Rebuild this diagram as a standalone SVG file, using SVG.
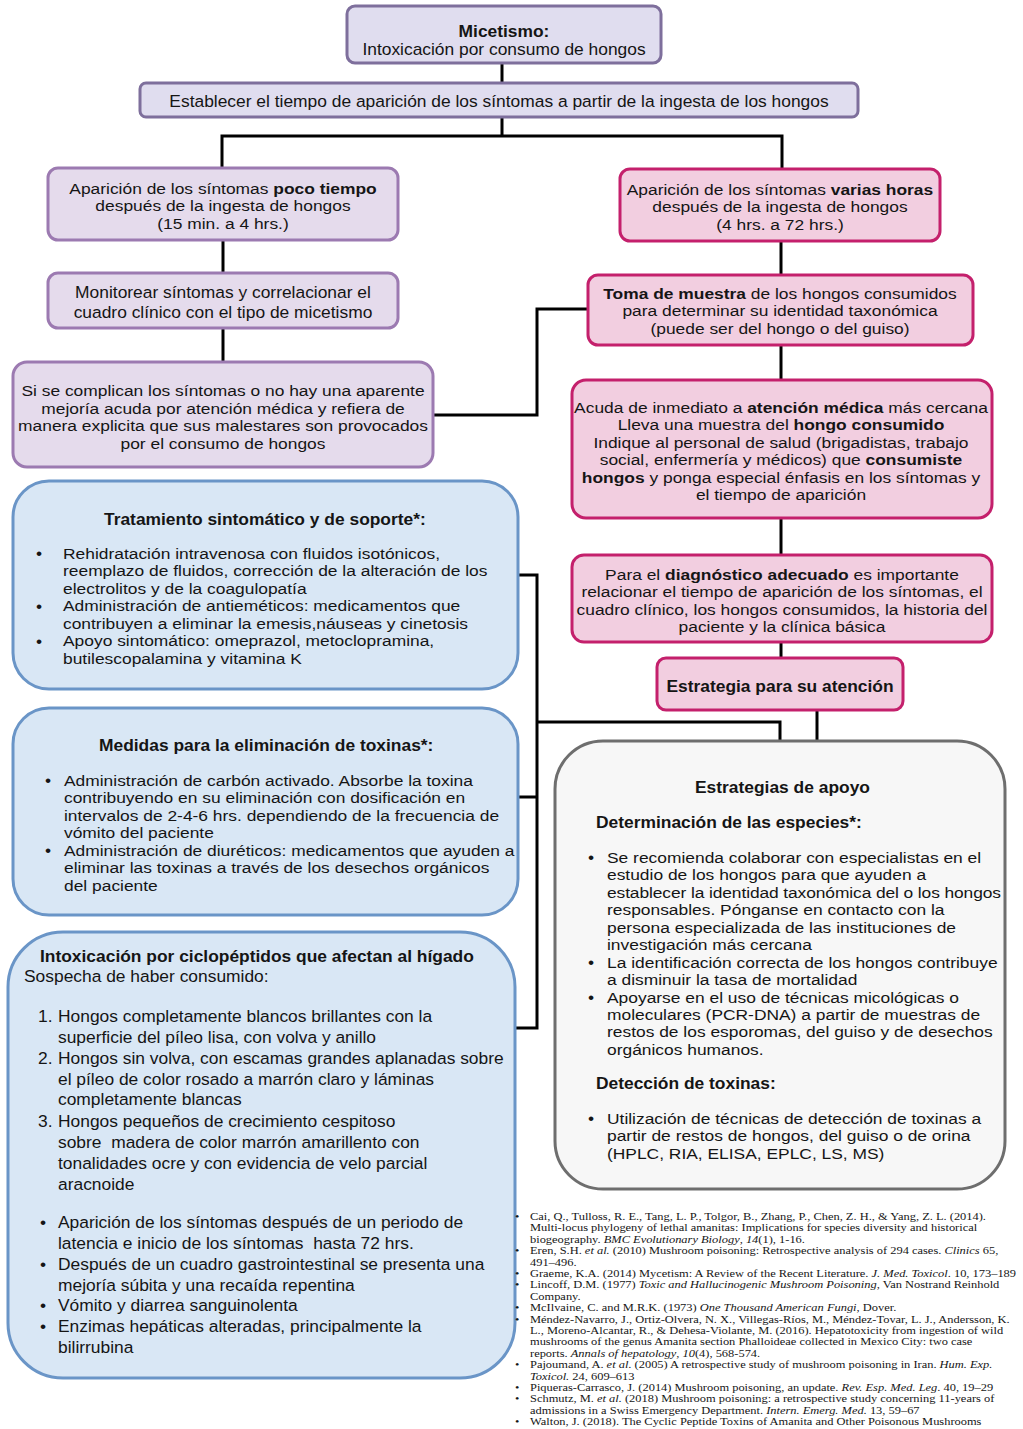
<svg xmlns="http://www.w3.org/2000/svg" width="1023" height="1429" viewBox="0 0 1023 1429">
<style>
.t{font-family:"Liberation Sans",Arial,Helvetica,sans-serif;font-size:17.4px;fill:#151515}
.s{font-size:15.5px}
.c{text-anchor:middle}
.b{font-weight:bold}
.ref{font-family:"Liberation Serif","Times New Roman",serif;font-size:10.2px;fill:#151515}
.i{font-style:italic}
.pt{fill:#e0ddef;stroke:#7e6f9c;stroke-width:3}
.pl{fill:#e5dbec;stroke:#9c7ab1;stroke-width:3}
.pk{fill:#f2cee0;stroke:#c4206c;stroke-width:3}
.bl{fill:#d9e7f5;stroke:#6a95c7;stroke-width:3}
.gr{fill:#f7f7f7;stroke:#6e6e6e;stroke-width:3}
.cn{fill:none;stroke:#000;stroke-width:3}
</style>
<rect width="1023" height="1429" fill="#fff"/>
<g id="connectors">
<path class="cn" d="M502,63 V83"/>
<path class="cn" d="M502,117 V136 M222,168 V136 H782 V169"/>
<path class="cn" d="M223,240 V273"/>
<path class="cn" d="M223,328 V362"/>
<path class="cn" d="M433,415 H537 V309 H588"/>
<path class="cn" d="M781,241 V275"/>
<path class="cn" d="M781,345 V380"/>
<path class="cn" d="M781,518 V555"/>
<path class="cn" d="M781,642 V658"/>
<path class="cn" d="M817,710 V741"/>
<path class="cn" d="M518,575 H537 V1028 H515 M518,797 H537 M537,722 H780 V741"/>
</g>
<g id="n1">
<rect class="pt" x="347" y="6" width="314" height="57" rx="8"/>
<text class="t c" style="font-size:16px" transform="translate(504,0) scale(1.0875,1) translate(-504,0)"><tspan class="b" x="504" y="37">Micetismo:</tspan><tspan x="504" y="55">Intoxicación por consumo de hongos</tspan></text>
</g>
<g id="n2">
<rect class="pt" x="140" y="83" width="718" height="34" rx="6"/>
<text class="t c" x="499" y="107">Establecer el tiempo de aparición de los síntomas a partir de la ingesta de los hongos</text>
</g>
<g id="n3">
<rect class="pl" x="48" y="168" width="350" height="72" rx="10"/>
<text class="t s c" transform="translate(223,0) scale(1.1226,1) translate(-223,0)"><tspan x="223" y="194">Aparición de los síntomas <tspan class="b">poco tiempo</tspan></tspan><tspan x="223" y="211.5">después de la ingesta de hongos</tspan><tspan x="223" y="229">(15 min. a 4 hrs.)</tspan></text>
</g>
<g id="n4">
<rect class="pl" x="48" y="273" width="350" height="55" rx="10"/>
<text class="t c"><tspan x="223" y="298">Monitorear síntomas y correlacionar el</tspan><tspan x="223" y="318">cuadro clínico con el tipo de micetismo</tspan></text>
</g>
<g id="n5">
<rect class="pl" x="13" y="362" width="420" height="105" rx="14"/>
<text class="t s c" transform="translate(223,0) scale(1.1226,1) translate(-223,0)"><tspan x="223" y="396.5">Si se complican los síntomas o no hay una aparente</tspan><tspan x="223" y="414">mejoría acuda por atención médica y refiera de</tspan><tspan x="223" y="431.5">manera explicita que sus malestares son provocados</tspan><tspan x="223" y="449">por el consumo de hongos</tspan></text>
</g>
<g id="n6">
<rect class="pk" x="620" y="169" width="320" height="72" rx="10"/>
<text class="t s c" transform="translate(780,0) scale(1.1226,1) translate(-780,0)"><tspan x="780" y="195">Aparición de los síntomas <tspan class="b">varias horas</tspan></tspan><tspan x="780" y="212.5">después de la ingesta de hongos</tspan><tspan x="780" y="230">(4 hrs. a 72 hrs.)</tspan></text>
</g>
<g id="n7">
<rect class="pk" x="588" y="275" width="385" height="70" rx="10"/>
<text class="t s c" transform="translate(780,0) scale(1.1226,1) translate(-780,0)"><tspan x="780" y="299"><tspan class="b">Toma de muestra</tspan> de los hongos consumidos</tspan><tspan x="780" y="316.5">para determinar su identidad taxonómica</tspan><tspan x="780" y="334">(puede ser del hongo o del guiso)</tspan></text>
</g>
<g id="n8">
<rect class="pk" x="572" y="380" width="420" height="138" rx="14"/>
<text class="t s c" transform="translate(781,0) scale(1.1226,1) translate(-781,0)"><tspan x="781" y="413">Acuda de inmediato a <tspan class="b">atención médica</tspan> más cercana</tspan><tspan x="781" y="430.4">Lleva una muestra del <tspan class="b">hongo consumido</tspan></tspan><tspan x="781" y="447.8">Indique al personal de salud (brigadistas, trabajo</tspan><tspan x="781" y="465.2">social, enfermería y médicos) que <tspan class="b">consumiste</tspan></tspan><tspan x="781" y="482.6"><tspan class="b">hongos</tspan> y ponga especial énfasis en los síntomas y</tspan><tspan x="781" y="500">el tiempo de aparición</tspan></text>
</g>
<g id="n9">
<rect class="pk" x="572" y="555" width="420" height="87" rx="12"/>
<text class="t s c" transform="translate(782,0) scale(1.1226,1) translate(-782,0)"><tspan x="782" y="580">Para el <tspan class="b">diagnóstico adecuado</tspan> es importante</tspan><tspan x="782" y="597.5">relacionar el tiempo de aparición de los síntomas, el</tspan><tspan x="782" y="615">cuadro clínico, los hongos consumidos, la historia del</tspan><tspan x="782" y="632.5">paciente y la clínica básica</tspan></text>
</g>
<g id="n10">
<rect class="pk" x="657" y="658" width="246" height="52" rx="9"/>
<text class="t c b" x="780" y="692">Estrategia para su atención</text>
</g>
<g id="n11">
<rect class="bl" x="13" y="481" width="505" height="208" rx="36"/>
<text class="t b" x="104" y="525">Tratamiento sintomático y de soporte*:</text>
<text class="t"><tspan x="36" y="559">•</tspan><tspan x="36" y="611.5">•</tspan><tspan x="36" y="646.5">•</tspan></text>
<text class="t s" transform="translate(63,0) scale(1.1226,1) translate(-63,0)"><tspan x="63" y="559">Rehidratación intravenosa con fluidos isotónicos,</tspan><tspan x="63" y="576.5">reemplazo de fluidos, corrección de la alteración de los</tspan><tspan x="63" y="594">electrolitos y de la coagulopatía</tspan><tspan x="63" y="611.5">Administración de antieméticos: medicamentos que</tspan><tspan x="63" y="629">contribuyen a eliminar la emesis,náuseas y cinetosis</tspan><tspan x="63" y="646.5">Apoyo sintomático: omeprazol, metoclopramina,</tspan><tspan x="63" y="664">butilescopalamina y vitamina K</tspan></text>
</g>
<g id="n12">
<rect class="bl" x="13" y="708" width="505" height="207" rx="36"/>
<text class="t b" x="99" y="751">Medidas para la eliminación de toxinas*:</text>
<text class="t"><tspan x="45" y="786">•</tspan><tspan x="45" y="856">•</tspan></text>
<text class="t s" transform="translate(64,0) scale(1.1226,1) translate(-64,0)"><tspan x="64" y="786">Administración de carbón activado. Absorbe la toxina</tspan><tspan x="64" y="803.5">contribuyendo en su eliminación con dosificación en</tspan><tspan x="64" y="821">intervalos de 2-4-6 hrs. dependiendo de la frecuencia de</tspan><tspan x="64" y="838.5">vómito del paciente</tspan><tspan x="64" y="856">Administración de diuréticos: medicamentos que ayuden a</tspan><tspan x="64" y="873.5">eliminar las toxinas a través de los desechos orgánicos</tspan><tspan x="64" y="891">del paciente</tspan></text>
</g>
<g id="n13">
<rect class="bl" x="8" y="932" width="507" height="446" rx="55"/>
<text class="t" xml:space="preserve"><tspan class="b" x="40" y="962">Intoxicación por ciclopéptidos que afectan al hígado</tspan><tspan x="24" y="982">Sospecha de haber consumido:</tspan><tspan x="38" y="1022">1.</tspan><tspan x="58" y="1022">Hongos completamente blancos brillantes con la</tspan><tspan x="58" y="1043">superficie del píleo lisa, con volva y anillo</tspan><tspan x="38" y="1064">2.</tspan><tspan x="58" y="1064">Hongos sin volva, con escamas grandes aplanadas sobre</tspan><tspan x="58" y="1085">el píleo de color rosado a marrón claro y láminas</tspan><tspan x="58" y="1105">completamente blancas</tspan><tspan x="38" y="1127">3.</tspan><tspan x="58" y="1127">Hongos pequeños de crecimiento cespitoso</tspan><tspan x="58" y="1148">sobre  madera de color marrón amarillento con</tspan><tspan x="58" y="1169">tonalidades ocre y con evidencia de velo parcial</tspan><tspan x="58" y="1190">aracnoide</tspan><tspan x="40" y="1228">•</tspan><tspan x="58" y="1228">Aparición de los síntomas después de un periodo de</tspan><tspan x="58" y="1249">latencia e inicio de los síntomas  hasta 72 hrs.</tspan><tspan x="40" y="1270">•</tspan><tspan x="58" y="1270">Después de un cuadro gastrointestinal se presenta una</tspan><tspan x="58" y="1291">mejoría súbita y una recaída repentina</tspan><tspan x="40" y="1311">•</tspan><tspan x="58" y="1311">Vómito y diarrea sanguinolenta</tspan><tspan x="40" y="1332">•</tspan><tspan x="58" y="1332">Enzimas hepáticas alteradas, principalmente la</tspan><tspan x="58" y="1353">bilirrubina</tspan></text>
</g>
<g id="n14">
<rect class="gr" x="555" y="741" width="450" height="448" rx="48"/>
<text class="t b"><tspan x="695" y="793">Estrategias de apoyo</tspan><tspan x="596" y="828">Determinación de las especies*:</tspan><tspan x="596" y="1089">Detección de toxinas:</tspan></text>
<text class="t"><tspan x="588" y="863">•</tspan><tspan x="588" y="967.7">•</tspan><tspan x="588" y="1002.6">•</tspan><tspan x="588" y="1124">•</tspan></text>
<text class="t s" transform="translate(607,0) scale(1.1226,1) translate(-607,0)"><tspan x="607" y="863">Se recomienda colaborar con especialistas en el</tspan><tspan x="607" y="880.45">estudio de los hongos para que ayuden a</tspan><tspan x="607" y="897.9" textLength="351" lengthAdjust="spacing">establecer la identidad taxonómica del o los hongos</tspan><tspan x="607" y="915.35">responsables. Pónganse en contacto con la</tspan><tspan x="607" y="932.8">persona especializada de las instituciones de</tspan><tspan x="607" y="950.25">investigación más cercana</tspan><tspan x="607" y="967.7">La identificación correcta de los hongos contribuye</tspan><tspan x="607" y="985.15">a disminuir la tasa de mortalidad</tspan><tspan x="607" y="1002.6">Apoyarse en el uso de técnicas micológicas o</tspan><tspan x="607" y="1020.05">moleculares (PCR-DNA) a partir de muestras de</tspan><tspan x="607" y="1037.5">restos de los esporomas, del guiso y de desechos</tspan><tspan x="607" y="1054.95">orgánicos humanos.</tspan><tspan x="607" y="1124">Utilización de técnicas de detección de toxinas a</tspan><tspan x="607" y="1141.5">partir de restos de hongos, del guiso o de orina</tspan><tspan x="607" y="1159">(HPLC, RIA, ELISA, EPLC, LS, MS)</tspan></text>
</g>
<g id="references" transform="translate(515,0) scale(1.22,1) translate(-515,0)">
<text class="ref"><tspan x="515" y="1220">•</tspan><tspan x="527.3" y="1220">Cai, Q., Tulloss, R. E., Tang, L. P., Tolgor, B., Zhang, P., Chen, Z. H., &amp; Yang, Z. L. (2014).</tspan><tspan x="527.3" y="1231.4">Multi-locus phylogeny of lethal amanitas: Implications for species diversity and historical</tspan><tspan x="527.3" y="1242.8">biogeography. <tspan class="i">BMC Evolutionary Biology</tspan>, <tspan class="i">14</tspan>(1), 1-16.</tspan><tspan x="515" y="1254.2">•</tspan><tspan x="527.3" y="1254.2">Eren, S.H. <tspan class="i">et al.</tspan> (2010) Mushroom poisoning: Retrospective analysis of 294 cases. <tspan class="i">Clinics</tspan> 65,</tspan><tspan x="527.3" y="1265.6">491–496.</tspan><tspan x="515" y="1277">•</tspan><tspan x="527.3" y="1277">Graeme, K.A. (2014) Mycetism: A Review of the Recent Literature. <tspan class="i">J. Med. Toxicol</tspan>. 10, 173–189</tspan><tspan x="515" y="1288.4">•</tspan><tspan x="527.3" y="1288.4">Lincoff, D.M. (1977) <tspan class="i">Toxic and Hallucinogenic Mushroom Poisoning</tspan>, Van Nostrand Reinhold</tspan><tspan x="527.3" y="1299.8">Company.</tspan><tspan x="515" y="1311.2">•</tspan><tspan x="527.3" y="1311.2">McIlvaine, C. and M.R.K. (1973) <tspan class="i">One Thousand American Fungi</tspan>, Dover.</tspan><tspan x="515" y="1322.6">•</tspan><tspan x="527.3" y="1322.6">Méndez-Navarro, J., Ortiz-Olvera, N. X., Villegas-Ríos, M., Méndez-Tovar, L. J., Andersson, K.</tspan><tspan x="527.3" y="1334">L., Moreno-Alcantar, R., &amp; Dehesa-Violante, M. (2016). Hepatotoxicity from ingestion of wild</tspan><tspan x="527.3" y="1345.4">mushrooms of the genus Amanita section Phalloideae collected in Mexico City: two case</tspan><tspan x="527.3" y="1356.8">reports. <tspan class="i">Annals of hepatology</tspan>, <tspan class="i">10</tspan>(4), 568-574.</tspan><tspan x="515" y="1368.2">•</tspan><tspan x="527.3" y="1368.2">Pajoumand, A. <tspan class="i">et al</tspan>. (2005) A retrospective study of mushroom poisoning in Iran. <tspan class="i">Hum. Exp.</tspan></tspan><tspan x="527.3" y="1379.6"><tspan class="i">Toxicol.</tspan> 24, 609–613</tspan><tspan x="515" y="1391">•</tspan><tspan x="527.3" y="1391">Piqueras-Carrasco, J. (2014) Mushroom poisoning, an update. <tspan class="i">Rev. Esp. Med. Leg</tspan>. 40, 19–29</tspan><tspan x="515" y="1402.4">•</tspan><tspan x="527.3" y="1402.4">Schmutz, M. <tspan class="i">et al.</tspan> (2018) Mushroom poisoning: a retrospective study concerning 11-years of</tspan><tspan x="527.3" y="1413.8">admissions in a Swiss Emergency Department. <tspan class="i">Intern. Emerg. Med.</tspan> 13, 59–67</tspan><tspan x="515" y="1425.2">•</tspan><tspan x="527.3" y="1425.2">Walton, J. (2018). The Cyclic Peptide Toxins of Amanita and Other Poisonous Mushrooms</tspan></text>
</g>
</svg>
